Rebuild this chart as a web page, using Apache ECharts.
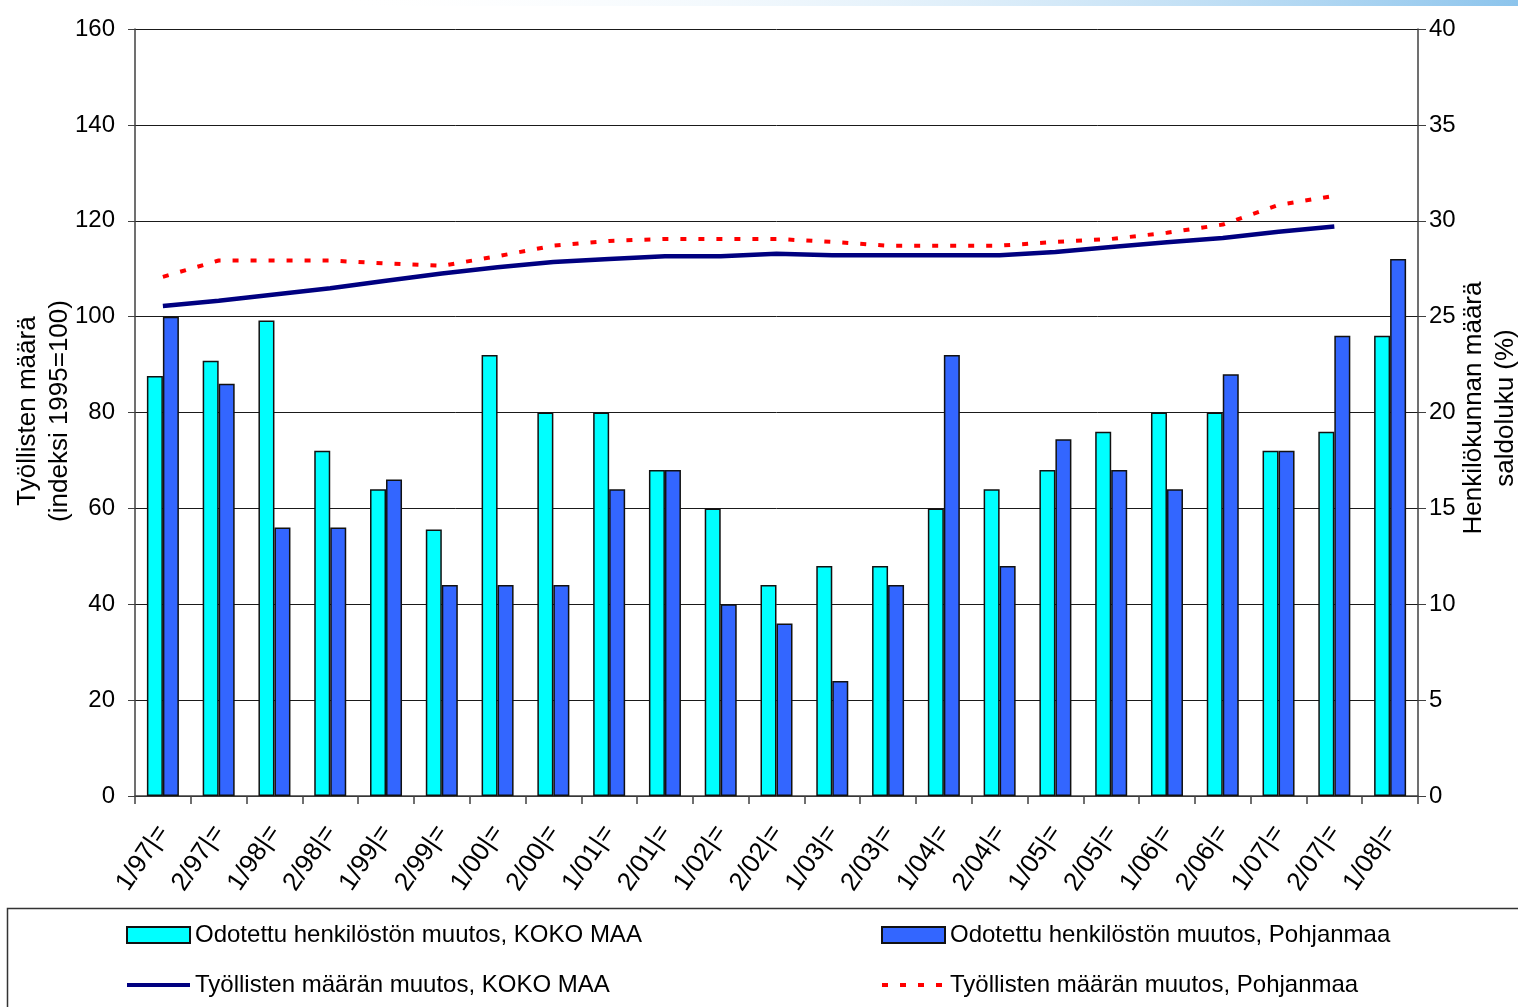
<!DOCTYPE html>
<html>
<head>
<meta charset="utf-8">
<script src="https://cdn.jsdelivr.net/npm/echarts@6/dist/echarts.min.js"></script>
<style>
  html, body { margin: 0; padding: 0; background: #fff; }
  #chart { width: 1518px; height: 1007px; }
</style>
</head>
<body>
<div id="chart"></div>
<script>
// kategoriat (vuosipuolisko)
const categories = ['1/97|=', '2/97|=', '1/98|=', '2/98|=', '1/99|=', '2/99|=', '1/00|=', '2/00|=',
  '1/01|=', '2/01|=', '1/02|=', '2/02|=', '1/03|=', '2/03|=', '1/04|=', '2/04|=', '1/05|=',
  '2/05|=', '1/06|=', '2/06|=', '1/07|=', '2/07|=', '1/08|='];

// saldoluvut (%), oikea akseli
const henkKokoMaa = [21.9, 22.7, 24.8, 18, 16, 13.9, 23, 20, 20, 17, 15, 11, 12, 12, 15, 16, 17, 19, 20, 20, 18, 19, 24];
const henkPohjanmaa = [25, 21.5, 14, 14, 16.5, 11, 11, 11, 16, 17, 10, 9, 6, 11, 23, 12, 18.6, 17, 16, 22, 18, 24, 28];

// työllisten määrä, indeksi 1995=100, vasen akseli
const tyolKokoMaa = [102.2, 103.3, 104.6, 105.9, 107.5, 109, 110.3, 111.4, 112, 112.6, 112.6, 113.1, 112.8,
  112.8, 112.8, 112.8, 113.5, 114.5, 115.5, 116.4, 117.7, 118.8, null];
const tyolPohjanmaa = [108.3, 111.7, 111.7, 111.7, 111.1, 110.6, 112.6, 114.8, 115.8, 116.2, 116.2, 116.2, 115.6,
  114.8, 114.8, 114.8, 115.6, 116.2, 117.5, 119.2, 123.3, 125.2, null];

const leftTicks = { min: 0, max: 160, interval: 20 };
const rightTicks = { min: 0, max: 40, interval: 5 };

const names = [
  'Odotettu henkilöstön muutos, KOKO MAA',
  'Odotettu henkilöstön muutos, Pohjanmaa',
  'Työllisten määrän muutos, KOKO MAA',
  'Työllisten määrän muutos, Pohjanmaa',
];

const font = 'Liberation Sans, Arial, sans-serif';
const gridColor = '#1a1a1a';

const legendBase = {
  orient: 'vertical',
  top: 923,
  padding: 0,
  itemWidth: 63,
  itemHeight: 16,
  itemGap: 26,
  textStyle: { fontSize: 24, color: '#000', fontFamily: font, lineHeight: 24 },
};
// viivojen legendasta piilotetaan pallosymboli
const lineItem = (name) => ({ name, itemStyle: { opacity: 0 }, lineStyle: { width: 4 } });
const barItem = (name) => ({ name, icon: 'rect' });

const myChart = echarts.init(document.getElementById('chart'));
const option = {
  backgroundColor: '#fff',
  animation: false,
  textStyle: { fontFamily: font },
  grid: { left: 135, right: 100, top: 29, bottom: 211 },
  graphic: [
    {
      type: 'rect',
      shape: { x: 330, y: 0, width: 1188, height: 6 },
      style: {
        fill: new echarts.graphic.LinearGradient(0, 0, 1, 0, [
          { offset: 0, color: 'rgba(255,255,255,0)' },
          { offset: 1, color: '#8cc4ec' },
        ]),
      },
      silent: true,
    },
    {
      type: 'rect',
      shape: { x: 7.5, y: 908.5, width: 1520, height: 120 },
      style: { fill: 'none', stroke: '#333', lineWidth: 1.5 },
      silent: true,
    },
    {
      type: 'text',
      x: 44,
      y: 411,
      rotation: Math.PI / 2,
      style: {
        text: 'Työllisten määrä\n(indeksi 1995=100)',
        font: '26px ' + font,
        fill: '#000',
        align: 'center',
        verticalAlign: 'middle',
        lineHeight: 32,
      },
    },
    {
      type: 'text',
      x: 1490,
      y: 408,
      rotation: Math.PI / 2,
      style: {
        text: 'Henkilökunnan määrä\nsaldoluku (%)',
        font: '26px ' + font,
        fill: '#000',
        align: 'center',
        verticalAlign: 'middle',
        lineHeight: 32,
      },
    },
  ],
  legend: [
    Object.assign({}, legendBase, { left: 125, data: [barItem(names[0]), lineItem(names[2])] }),
    Object.assign({}, legendBase, { left: 880, data: [barItem(names[1]), lineItem(names[3])] }),
  ],
  xAxis: {
    type: 'category',
    data: categories,
    boundaryGap: true,
    axisLine: { lineStyle: { color: '#404040', width: 1.5 } },
    axisTick: { show: true, length: 8, lineStyle: { color: '#404040', width: 1.5 } },
    axisLabel: {
      interval: 0,
      rotate: 56,
      margin: 32,
      fontSize: 26,
      color: '#000',
      fontFamily: font,
    },
  },
  yAxis: [
    {
      type: 'value',
      min: leftTicks.min,
      max: leftTicks.max,
      interval: leftTicks.interval,
      axisLine: { show: true, lineStyle: { color: '#404040', width: 1.5 } },
      axisTick: { show: true, length: 7, lineStyle: { color: '#404040' } },
      axisLabel: { fontSize: 24, color: '#000', margin: 20, fontFamily: font },
      splitLine: { lineStyle: { color: gridColor, width: 1 } },
    },
    {
      type: 'value',
      min: rightTicks.min,
      max: rightTicks.max,
      interval: rightTicks.interval,
      position: 'right',
      axisLine: { show: true, lineStyle: { color: '#404040', width: 1.5 } },
      axisTick: { show: true, length: 8, lineStyle: { color: '#404040' } },
      axisLabel: { fontSize: 24, color: '#000', margin: 11, fontFamily: font },
      splitLine: { show: false },
    },
  ],
  series: [
    {
      name: names[0],
      type: 'bar',
      yAxisIndex: 1,
      data: henkKokoMaa,
      barWidth: 16,
      barGap: '0%',
      itemStyle: { color: '#00ffff', borderColor: '#111', borderWidth: 1.5 },
    },
    {
      name: names[1],
      type: 'bar',
      yAxisIndex: 1,
      data: henkPohjanmaa,
      barWidth: 16,
      barGap: '0%',
      itemStyle: { color: '#3366ff', borderColor: '#111', borderWidth: 1.5 },
    },
    {
      name: names[2],
      type: 'line',
      yAxisIndex: 0,
      data: tyolKokoMaa,
      symbol: 'none',
      z: 5,
      lineStyle: { color: '#000080', width: 4.5 },
      itemStyle: { color: '#000080' },
    },
    {
      name: names[3],
      type: 'line',
      yAxisIndex: 0,
      data: tyolPohjanmaa,
      symbol: 'none',
      z: 6,
      lineStyle: { color: '#ff0000', width: 4, type: [6, 12] },
      itemStyle: { color: '#ff0000' },
    },
  ],
};
myChart.setOption(option);
</script>
</body>
</html>
